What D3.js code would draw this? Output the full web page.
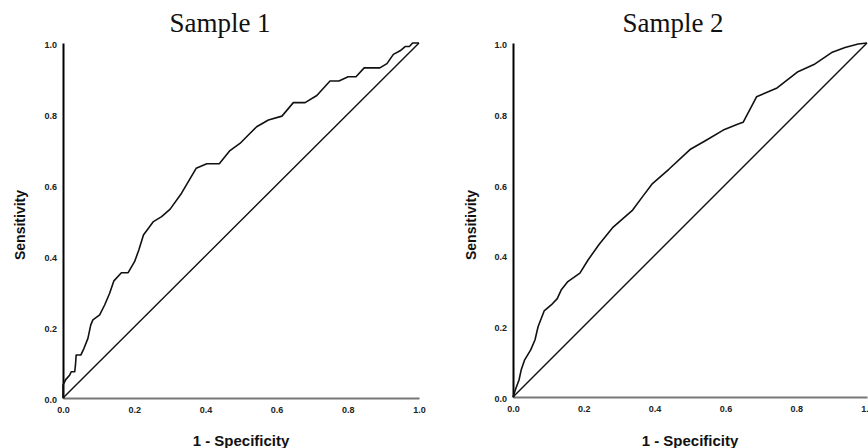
<!DOCTYPE html>
<html>
<head>
<meta charset="utf-8">
<script src="https://cdn.jsdelivr.net/npm/d3@7"></script>
<style>
  html, body { margin: 0; padding: 0; background: #fff; }
  svg { display: block; }
</style>
</head>
<body>
<svg id="chart" width="868" height="448"></svg>
<script>
// ---- Data ----
const panelTitles = ["Sample 1", "Sample 2"];
const tickValues = [0, 0.2, 0.4, 0.6, 0.8, 1.0];
const tickLabels = ["0.0", "0.2", "0.4", "0.6", "0.8", "1.0"];
const xTitle = "1 - Specificity";
const yTitle = "Sensitivity";

const sample1FPR = [0, 0, 0.005, 0.007, 0.019, 0.023, 0.033, 0.035, 0.037, 0.05, 0.059, 0.07, 0.078, 0.084, 0.103, 0.117, 0.131, 0.143, 0.164, 0.183, 0.201, 0.213, 0.226, 0.254, 0.277, 0.301, 0.333, 0.374, 0.404, 0.439, 0.469, 0.497, 0.52, 0.544, 0.577, 0.615, 0.647, 0.68, 0.713, 0.75, 0.775, 0.801, 0.823, 0.846, 0.89, 0.91, 0.928, 0.947, 0.961, 0.973, 0.982, 1];
const sample1TPR = [0, 0.037, 0.046, 0.051, 0.065, 0.074, 0.074, 0.093, 0.121, 0.121, 0.14, 0.168, 0.206, 0.22, 0.234, 0.262, 0.295, 0.33, 0.353, 0.353, 0.384, 0.417, 0.459, 0.497, 0.511, 0.532, 0.577, 0.647, 0.66, 0.66, 0.697, 0.717, 0.74, 0.764, 0.783, 0.794, 0.832, 0.832, 0.852, 0.893, 0.893, 0.905, 0.905, 0.93, 0.93, 0.942, 0.968, 0.978, 0.99, 0.99, 1.0, 1];

const sample2FPR = [0, 0.008, 0.017, 0.023, 0.033, 0.05, 0.062, 0.071, 0.088, 0.108, 0.125, 0.136, 0.155, 0.189, 0.212, 0.243, 0.283, 0.338, 0.366, 0.394, 0.441, 0.5, 0.547, 0.594, 0.636, 0.65, 0.688, 0.746, 0.805, 0.85, 0.9, 0.938, 0.975, 1];
const sample2TPR = [0, 0.024, 0.048, 0.076, 0.105, 0.133, 0.161, 0.199, 0.243, 0.26, 0.278, 0.302, 0.326, 0.35, 0.387, 0.431, 0.48, 0.528, 0.566, 0.603, 0.644, 0.699, 0.726, 0.754, 0.771, 0.776, 0.848, 0.873, 0.919, 0.939, 0.973, 0.987, 0.997, 1];

const diagonal = [0, 1];

// ---- Layout ----
const panels = [
  { title: panelTitles[0], fpr: sample1FPR, tpr: sample1TPR,
    x0: 63, x1: 419, y0: 398, y1: 43, titleX: 220, yTitleX: 20 },
  { title: panelTitles[1], fpr: sample2FPR, tpr: sample2TPR,
    x0: 513, x1: 867, y0: 397, y1: 43, titleX: 673, yTitleX: 471 }
];

const svg = d3.select("#chart");

panels.forEach(p => {
  const x = d3.scaleLinear().domain([0, 1]).range([p.x0, p.x1]);
  const y = d3.scaleLinear().domain([0, 1]).range([p.y0, p.y1]);
  const g = svg.append("g");

  // Title
  g.append("text")
    .attr("x", p.titleX).attr("y", 32)
    .attr("text-anchor", "middle")
    .style("font-family", "'Liberation Serif', 'Times New Roman', serif")
    .style("font-size", "27px")
    .attr("fill", "#111")
    .text(p.title);

  // X axis (grey line, no tick marks)
  const xAxis = d3.axisBottom(x).tickValues(tickValues)
    .tickFormat((d, i) => tickLabels[i]).tickSize(0).tickPadding(9);
  const gx = g.append("g").attr("transform", `translate(0,${p.y0})`).call(xAxis);
  gx.select(".domain").attr("stroke", "#777").attr("stroke-width", 2);
  gx.selectAll("text")
    .style("font-family", "'Liberation Sans', Arial, sans-serif")
    .style("font-size", "9px").style("font-weight", "bold")
    .attr("fill", "#222");

  // Y axis (black line, no tick marks)
  const yAxis = d3.axisLeft(y).tickValues(tickValues)
    .tickFormat((d, i) => tickLabels[i]).tickSize(0).tickPadding(6);
  const gy = g.append("g").attr("transform", `translate(${p.x0},0)`).call(yAxis);
  gy.select(".domain").attr("stroke", "#000").attr("stroke-width", 2);
  gy.selectAll("text")
    .attr("dy", "0.5em")
    .style("font-family", "'Liberation Sans', Arial, sans-serif")
    .style("font-size", "9px").style("font-weight", "bold")
    .attr("fill", "#222");

  // Diagonal reference line
  g.append("line")
    .attr("x1", x(diagonal[0])).attr("y1", y(diagonal[0]))
    .attr("x2", x(diagonal[1])).attr("y2", y(diagonal[1]))
    .attr("stroke", "#111").attr("stroke-width", 1.4);

  // ROC curve
  const pts = p.fpr.map((f, i) => [f, p.tpr[i]]);
  const line = d3.line().x(d => x(d[0])).y(d => y(d[1])).curve(d3.curveLinear);
  g.append("path").datum(pts)
    .attr("d", line)
    .attr("fill", "none")
    .attr("stroke", "#111")
    .attr("stroke-width", 1.6)
    .attr("stroke-linejoin", "round");

  // Axis titles
  g.append("text")
    .attr("x", (p.x0 + p.x1) / 2).attr("y", 446)
    .attr("text-anchor", "middle")
    .style("font-family", "'Liberation Sans', Arial, sans-serif")
    .style("font-size", "15px").style("font-weight", "bold")
    .attr("fill", "#111")
    .text(xTitle);

  g.append("text")
    .attr("transform", `translate(${p.yTitleX + 5},225) rotate(-90)`)
    .attr("text-anchor", "middle")
    .style("font-family", "'Liberation Sans', Arial, sans-serif")
    .style("font-size", "14px").style("font-weight", "bold")
    .attr("fill", "#111")
    .text(yTitle);
});
</script>
</body>
</html>
